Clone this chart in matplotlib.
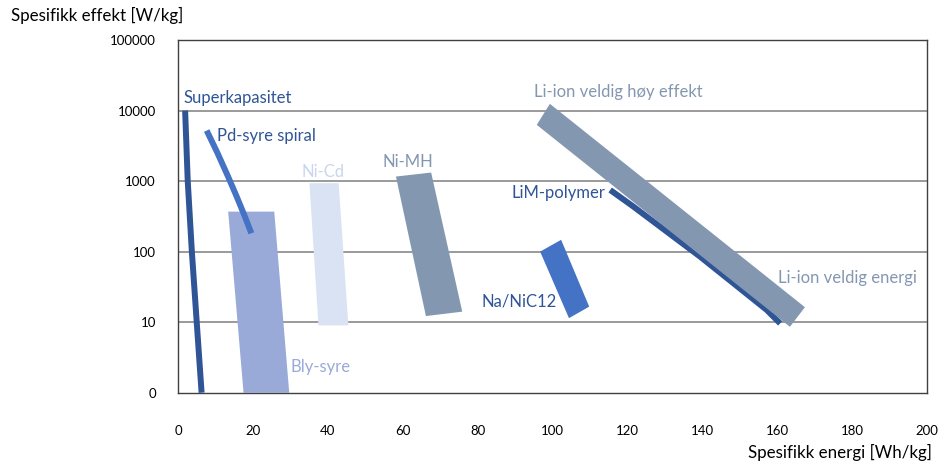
import matplotlib
matplotlib.use("Agg")
import matplotlib.pyplot as plt
from matplotlib.patches import Polygon
from matplotlib.ticker import FixedLocator, NullLocator

plt.rcParams['font.family'] = ['Lato', 'DejaVu Sans']

# Ragone diagram: specific energy [Wh/kg] vs specific power [W/kg]
x_ticks = [0, 20, 40, 60, 80, 100, 120, 140, 160, 180, 200]
y_ticks = [1, 10, 100, 1000, 10000, 100000]
y_tick_labels = ["0", "10", "100", "1000", "10000", "100000"]

# Areas (corner points: energy, power)
bly_syre_e = [13.4, 25.7, 29.7, 17.5]
bly_syre_p = [369, 369, 1, 1]
ni_cd_e = [35.1, 42.9, 45.5, 37.5]
ni_cd_p = [934, 934, 9.0, 9.0]
ni_mh_e = [58.2, 67.6, 75.9, 66.2]
ni_mh_p = [1159, 1321, 14.1, 12.2]
na_nicl_e = [96.7, 102.3, 109.8, 104.4]
na_nicl_p = [100, 147, 16.6, 11.4]
li_ion_e = [95.8, 99.3, 167.4, 163.4]
li_ion_p = [6268, 12445, 16.3, 8.6]

# Curves (energy, power)
superkap_e = [1.9, 2.6, 3.7, 5.0, 6.3]
superkap_p = [10000, 1000, 100, 10, 1]
pd_spiral_e = [7.66, 10.56, 13.37, 15.67, 17.86, 19.59]
pd_spiral_p = [5200, 2489, 1159, 603, 314, 182]
lim_poly_e = [115.4, 121.6, 139.4, 148.3, 157.2, 160.8]
lim_poly_p = [748, 435, 85, 35.6, 14.9, 9.6]

DARK = "#2F5597"
MID = "#4472C4"
LIGHT = "#9AAAD8"
PALE = "#DAE3F3"
GREY = "#8497B0"

fig = plt.figure(figsize=(9.4, 4.63), dpi=100)
ax = fig.add_axes([178 / 940, 1 - 392.7 / 463, (927 - 178) / 940, (392.7 - 40) / 463])
ax.set_yscale("log")
ax.set_xlim(0, 200)
ax.set_ylim(1, 100000)

for yv in y_ticks[1:-1]:
    ax.axhline(yv, color="#7F7F7F", lw=1.1, zorder=1)

for sp in ax.spines.values():
    sp.set_color("#404040")
    sp.set_linewidth(1.0)

def area(es, ps, color, z):
    ax.add_patch(Polygon(list(zip(es, ps)), closed=True, facecolor=color,
                         edgecolor="none", zorder=z))

area(bly_syre_e, bly_syre_p, LIGHT, 2)
area(ni_cd_e, ni_cd_p, PALE, 2)
area(ni_mh_e, ni_mh_p, GREY, 2)
area(na_nicl_e, na_nicl_p, MID, 2)
ax.plot(lim_poly_e, lim_poly_p, color=DARK, lw=4.3, solid_capstyle="butt",
        solid_joinstyle="round", zorder=3)
area(li_ion_e, li_ion_p, GREY, 4)
ax.plot(superkap_e, superkap_p, color=DARK, lw=4.3, solid_capstyle="butt",
        solid_joinstyle="round", zorder=5)
ax.plot(pd_spiral_e, pd_spiral_p, color=MID, lw=4.3, solid_capstyle="butt",
        solid_joinstyle="round", zorder=5)

ax.xaxis.set_major_locator(FixedLocator(x_ticks))
ax.yaxis.set_major_locator(FixedLocator(y_ticks))
ax.yaxis.set_minor_locator(NullLocator())
ax.set_yticklabels(y_tick_labels)
ax.tick_params(axis="both", length=0, labelsize=9.5, colors="black")
ax.tick_params(axis="y", pad=16)
ax.tick_params(axis="x", pad=23)

fs = 12
labels = [
    ("Superkapasitet", 1.6, 98, DARK, "left"),
    ("Pd-syre spiral", 10.5, 136, DARK, "left"),
    ("Ni-Cd", 33.0, 171.7, "#C9D6EE", "left"),
    ("Ni-MH", 54.6, 161.7, GREY, "left"),
    ("Bly-syre", 30.1, 366.7, LIGHT, "left"),
    ("Na/NiC12", 101.2, 301.7, DARK, "right"),
    ("LiM-polymer", 114.2, 192.7, DARK, "right"),
    ("Li-ion veldig høy effekt", 95.1, 91.7, GREY, "left"),
    ("Li-ion veldig energi", 160.3, 278.3, GREY, "left"),
]
for txt, xe, py, col, ha in labels:
    yv = 10 ** ((392.7 - py) / 70.5)
    ax.text(xe, yv, txt, color=col, fontsize=fs, ha=ha, va="center", zorder=6)

fig.text(11 / 940, 1 - 15 / 463, "Spesifikk effekt [W/kg]", fontsize=12.2,
         ha="left", va="center", color="black")
fig.text(932 / 940, 1 - 452 / 463, "Spesifikk energi [Wh/kg]", fontsize=12.2,
         ha="right", va="center", color="black")

fig.savefig("out.png", dpi=100)
